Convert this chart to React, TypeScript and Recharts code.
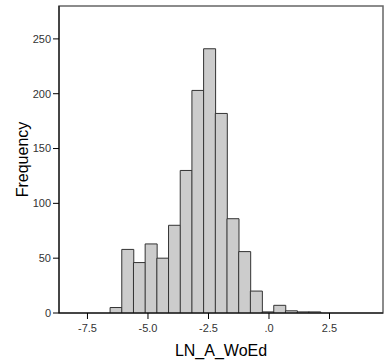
import React from "react";
import { ComposedChart, Bar, XAxis, YAxis, ReferenceArea, Label } from "recharts";

const binCenters = [-6.324, -5.841, -5.358, -4.875, -4.392, -3.909, -3.426, -2.943, -2.46, -1.977, -1.494, -1.011, -0.528, -0.045, 0.438, 0.921, 1.404, 1.887];
const frequencies = [5, 58, 46, 63, 50, 80, 130, 203, 241, 182, 86, 56, 20, 1, 7, 2, 1, 1];
const xTicks = [-7.5, -5, -2.5, 0, 2.5];
const xTickLabels = ["-7.5", "-5.0", "-2.5", ".0", "2.5"];
const yTicks = [0, 50, 100, 150, 200, 250];
const xDomain: [number, number] = [-8.676, 4.71];
const yDomain: [number, number] = [0, 280];

const data = binCenters.map((x, i) => ({ x, freq: frequencies[i] }));
const FONT = "Arial, 'Liberation Sans', sans-serif";

export default function App() {
  return (
    <div style={{ position: "absolute", left: 0, top: 0, background: "#fff" }}>
      <ComposedChart
        width={384}
        height={363}
        data={data}
        margin={{ top: 6, right: 1, left: 0, bottom: 0 }}
        barCategoryGap={0}
        barGap={0}
      >
        <ReferenceArea
          x1={xDomain[0]}
          x2={xDomain[1]}
          y1={yDomain[0]}
          y2={yDomain[1]}
          fill="none"
          stroke="#666"
          strokeWidth={1.5}
          ifOverflow="visible"
        />
        <XAxis
          dataKey="x"
          type="number"
          domain={xDomain}
          allowDataOverflow
          ticks={xTicks}
          tickFormatter={(v: number) => xTickLabels[xTicks.indexOf(v)] ?? String(v)}
          height={50}
          tickSize={6}
          tickMargin={5}
          stroke="#000"
          tick={{ fill: "#333", fontSize: 11, fontFamily: FONT }}
          interval={0}
        >
          <Label
            content={(p: any) => {
              const vb = p.viewBox;
              return (
                <text x={vb.x + vb.width / 2} y={vb.y + 43} textAnchor="middle" fontSize={16} fontFamily={FONT} fill="#000">
                  LN_A_WoEd
                </text>
              );
            }}
          />
        </XAxis>
        <YAxis
          type="number"
          domain={yDomain}
          allowDataOverflow
          ticks={yTicks}
          width={59}
          tickSize={6}
          tickMargin={2}
          stroke="#000"
          tick={{ fill: "#333", fontSize: 11, fontFamily: FONT }}
          interval={0}
        >
          <Label
            content={(p: any) => {
              const vb = p.viewBox;
              const cx = vb.x + 28;
              const cy = vb.y + vb.height / 2;
              return (
                <text x={cx} y={cy} transform={`rotate(-90, ${cx}, ${cy})`} textAnchor="middle" fontSize={16} fontFamily={FONT} fill="#000">
                  Frequency
                </text>
              );
            }}
          />
        </YAxis>
        <Bar dataKey="freq" fill="#cccccc" stroke="#333" strokeWidth={1} isAnimationActive={false} />
      </ComposedChart>
    </div>
  );
}
